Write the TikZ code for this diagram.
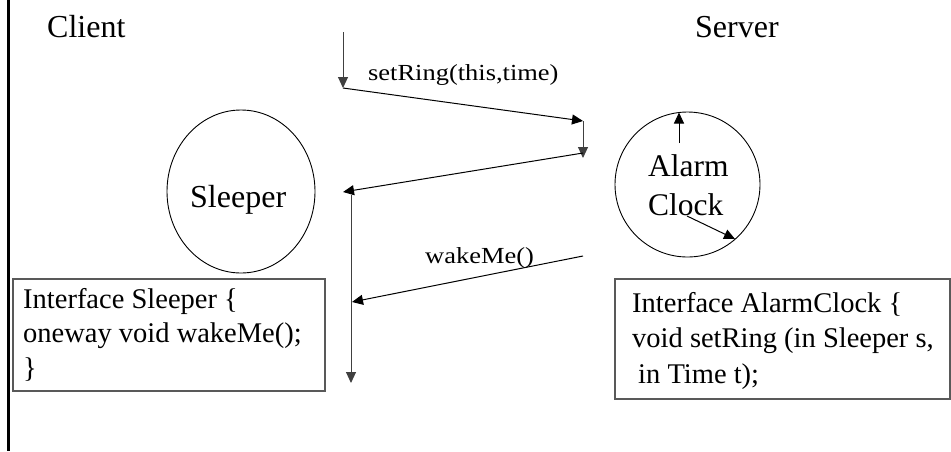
\documentclass[tikz,border=0pt]{standalone}
\usepackage{fontspec}
\setmainfont{Liberation Serif}
\usetikzlibrary{arrows.meta,shapes.geometric}
\begin{document}
\begin{tikzpicture}[x=1pt,y=-1pt,
  arr/.style={-{Triangle[length=11pt,width=10pt]}, line width=1pt, black},
  vline/.style={-{Triangle[length=11pt,width=10pt]}, line width=1pt, black!75},
  big/.style={font=\fontsize{32}{38}\selectfont, inner sep=0pt, anchor=base west},
  lbl/.style={font=\fontsize{23}{27}\selectfont, inner sep=0pt, anchor=base west},
  code/.style={font=\fontsize{28.5}{34}\selectfont, inner sep=0pt, anchor=base west},
  obj/.style={draw=black, line width=0.9pt, ellipse, inner sep=0pt},
  cbox/.style={draw=black!65, line width=1.2pt, rectangle, inner sep=0pt}]
\useasboundingbox (0,0) rectangle (951,451);
% left border line
\coordinate (b1) at (8.5,0);
\coordinate (b2) at (8.5,451);
\draw[line width=3pt] (b1) -- (b2);
% titles
\node[big] (client) at (47,37) {Client};
\node[big] (server) at (695,37) {Server};
% objects
\node[obj, minimum width=148pt, minimum height=163pt] (sleeper) at (241,191.5) {};
\node[big] (sleepertxt) at (190,207) {Sleeper};
\node[obj, minimum width=145pt, minimum height=145pt] (alarm) at (687.5,184.5) {};
\node[font=\fontsize{31.5}{38}\selectfont, inner sep=0pt, anchor=base west] (alarmtxt) at (648,176) {Alarm};
\node[font=\fontsize{31.5}{38}\selectfont, inner sep=0pt, anchor=base west] (clocktxt) at (648,215) {Clock};
% clock hands
\coordinate (h1) at (679,143);
\coordinate (h2) at (679,112.5);
\coordinate (h3) at (687,216);
\coordinate (h4) at (735,239);
\draw[arr] (h1) -- (h2);
\draw[arr] (h3) -- (h4);
% interface boxes
\node[cbox, minimum width=312pt, minimum height=112pt] (sbox) at (169,335) {};
\node[code] (s1) at (23,308) {Interface Sleeper \{};
\node[code] (s2) at (23,342.5) {oneway void wakeMe();};
\node[code] (s3) at (23,377) {\}};
\node[cbox, minimum width=335pt, minimum height=120pt] (abox) at (782.5,339) {};
\node[code] (a1) at (632,312) {Interface AlarmClock \{};
\node[code] (a2) at (632,347.5) {void setRing (in Sleeper s,};
\node[code] (a3) at (638,383) {in Time t);};
% call sequence
\coordinate (c1) at (343,32);
\coordinate (c2) at (343,88);
\coordinate (c3) at (583,121);
\coordinate (c4) at (583,158);
\coordinate (c5) at (583,153);
\coordinate (c6) at (343,192);
\coordinate (c7) at (351,195);
\coordinate (c8) at (351,383);
\coordinate (c9) at (583,256);
\coordinate (c10) at (352,302);
\draw[vline] (c1) -- (c2);
\draw[arr] (c2) -- (c3);
\draw[vline] (c3) -- (c4);
\draw[arr] (c5) -- (c6);
\draw[vline] (c7) -- (c8);
\draw[arr] (c9) -- (c10);
\node[lbl] (setring) at (368,80) {\scalebox{1.15}[1]{setRing(this,time)}};
\node[lbl] (wakeme) at (425,263) {\scalebox{1.15}[1]{wakeMe()}};
\end{tikzpicture}
\end{document}
